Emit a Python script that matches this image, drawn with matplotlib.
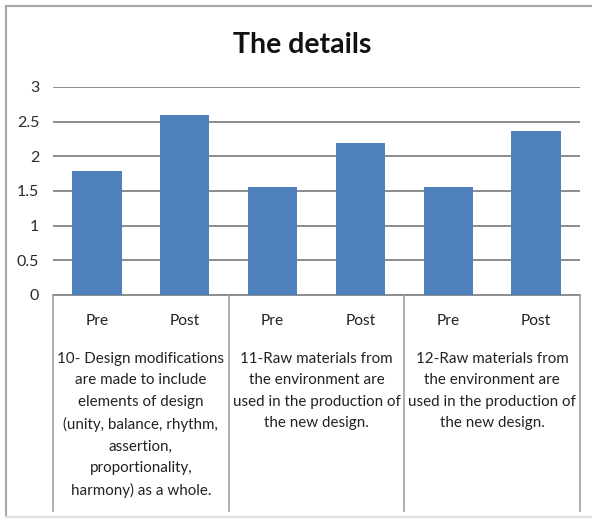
import matplotlib.pyplot as plt
import numpy as np
from matplotlib.lines import Line2D

plt.rcParams['font.family'] = ['Lato', 'DejaVu Sans']

# pre/post scores for each item
phases = ["Pre", "Post", "Pre", "Post", "Pre", "Post"]
scores = [1.79, 2.59, 1.56, 2.19, 1.56, 2.36]
items = [
    "10- Design modifications\nare made to include\nelements of design\n(unity, balance, rhythm,\nassertion,\nproportionality,\nharmony) as a whole.",
    "11-Raw materials from\nthe environment are\nused in the production of\nthe new design.",
    "12-Raw materials from\nthe environment are\nused in the production of\nthe new design.",
]
yticks = [0, 0.5, 1, 1.5, 2, 2.5, 3]

W, H = 592, 519
fig = plt.figure(figsize=(W / 100, H / 100), dpi=100)
ax = fig.add_axes([53 / W, 1 - 295 / H, (580 - 53) / W, (295 - 87) / H])

x = np.arange(len(scores))
ax.bar(x, scores, width=0.56, color="#4F81BD", zorder=3)
ax.set_xlim(-0.5, len(scores) - 0.5)
ax.set_ylim(0, 3)
ax.set_yticks(yticks)
ax.set_yticklabels([f"{t:g}" for t in yticks], fontsize=11.5, color="#2a2a2a")
ax.tick_params(axis="y", length=0, pad=10)
ax.set_xticks([])
ax.yaxis.grid(True, color="#8c8c8c", linewidth=1.4)
ax.set_axisbelow(True)
for s in ax.spines.values():
    s.set_visible(False)

# multi-level category box below the plot
trans = ax.get_xaxis_transform()
depth = -(511 - 295) / (295 - 87)
ax.plot([-0.5, len(scores) - 0.5], [0, 0], transform=trans, color="#8c8c8c",
        linewidth=1.4, clip_on=False)
for sep in np.arange(-0.5, len(scores), 2):
    ax.plot([sep, sep], [0, depth], transform=trans, color="#a0a0a0",
            linewidth=1.2, clip_on=False)
for xi, lab in zip(x, phases):
    ax.text(xi, -(321 - 295) / 208, lab, transform=trans, ha="center",
            va="center", fontsize=11.2, color="#222222")
for i, txt in enumerate(items):
    ax.text(2 * i + 0.5, -(352 - 295) / 208, txt, transform=trans,
            ha="center", va="top", fontsize=10.9, color="#222222",
            linespacing=1.68)

fig.text(302 / W, 1 - 45 / H, "The details", ha="center", va="center",
         fontsize=20.5, fontweight="bold", color="#111111")

# outer frame
frame = dict(color="#a8a8a8", linewidth=1.5)
fig.add_artist(Line2D([6 / W, 6 / W], [1 - 6 / H, 1 - 517 / H], **frame))
fig.add_artist(Line2D([6 / W, 1], [1 - 6 / H, 1 - 6 / H], **frame))
fig.add_artist(Line2D([6 / W, 1], [1 - 517 / H, 1 - 517 / H], color="#e0e0e0", linewidth=1.5))

fig.savefig("out.png", dpi=100)
